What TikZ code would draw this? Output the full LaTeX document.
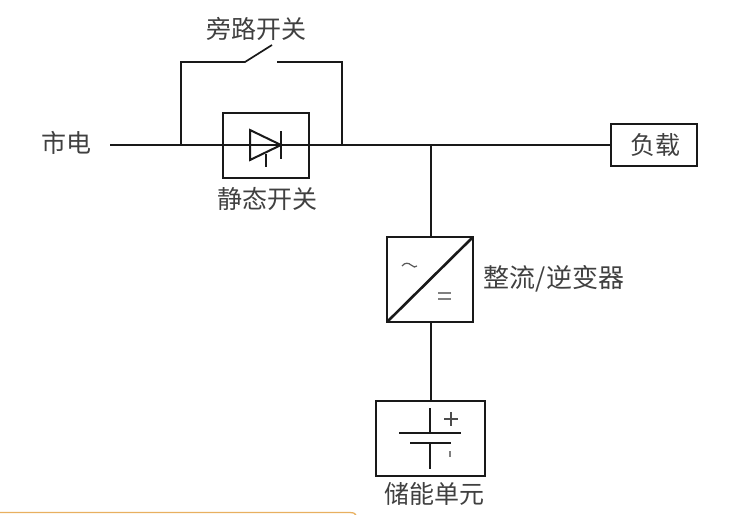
\documentclass[tikz,border=0pt]{standalone}
\usepackage{fontspec}
\setmainfont{Noto Sans CJK SC}[Scale=1]
\tikzset{
  x=1pt,y=-1pt,
  wire/.style={draw=black!90,line width=1.7pt},
  box/.style={draw=black!90,line width=1.8pt,fill=white,inner sep=0pt,outer sep=0pt,anchor=north west},
  lbl/.style={inner sep=0pt,text=black!75,font=\fontsize{25}{27}\selectfont},
  sym/.style={inner sep=0pt,text=black!70}
}
\begin{document}
\begin{tikzpicture}
\useasboundingbox (0,0) rectangle (730,514);
% coordinates
\coordinate (src) at (110,145);
\coordinate (bl) at (181,145);
\coordinate (br) at (342,145);
\coordinate (bltop) at (181,62);
\coordinate (brtop) at (342,62);
\coordinate (swa) at (245,62);
\coordinate (swb) at (272,45);
\coordinate (swc) at (277,62);
\coordinate (tee) at (431,145);
% boxes
\node[box,minimum width=86pt,minimum height=65pt] (static) at (223,113) {};
\node[box,minimum width=86pt,minimum height=42pt] (load) at (611,124) {};
\node[box,line width=2.4pt,minimum width=86pt,minimum height=85pt] (conv) at (387,237) {};
\node[box,minimum width=109pt,minimum height=75pt] (store) at (376,401) {};
% wires
\draw[wire] (src) -- (load.west);
\draw[wire] (bl) -- (bltop) -- (swa) -- (swb);
\draw[wire] (swc) -- (brtop) -- (br);
\draw[wire] (tee) -- (tee |- conv.north);
\draw[wire] (conv.south -| tee) -- (tee |- store.north);
% converter
\draw[line width=2.6pt,black!90] (conv.south west) -- (conv.north east);
\draw[line width=1.2pt,black!65] (402,266) .. controls (405,262) and (409,263) .. (411,265) .. controls (413,267) and (416,268) .. (417,266);
\draw[line width=1.2pt,black!50] (438,293) -- (451,293) (438,299) -- (451,299);
% diode
\coordinate (da) at (250,130);
\coordinate (db) at (250,160);
\coordinate (dc) at (281,145);
\draw[wire,line width=2pt,line join=miter] (da) -- (db) -- (dc) -- cycle;
\draw[wire,line width=2pt] (281,131) -- (281,159);
\draw[wire] (266,154) -- (266,167);
% battery
\draw[wire] (430,408) -- (430,433);
\draw[wire] (399,433) -- (461,433);
\draw[wire] (410,443) -- (451,443);
\draw[wire] (430,443) -- (430,469);
\draw[line width=1.2pt,black!70] (444,419) -- (458,419) (451,412) -- (451,426);
\draw[line width=1.2pt,black!50] (450,451) -- (450,457);
% labels
\node[lbl] (t1) at (256,29) {旁路开关};
\node[lbl] (t2) at (66,143) {市电};
\node[lbl] (t3) at (267,199) {静态开关};
\node[lbl] (t4) at (655,145) {负载};
\node[lbl,font=\fontsize{26}{28}\selectfont] (t5) at (554,279) {整流/逆变器};
\node[lbl] (t6) at (434,494) {储能单元};
% bottom edge
\draw[line width=1.3pt,color={rgb,255:red,232;green,176;blue,96}] (0,512.5) -- (350,512.5) .. controls (353,512.5) and (355,513) .. (356,515);
\end{tikzpicture}
\end{document}
